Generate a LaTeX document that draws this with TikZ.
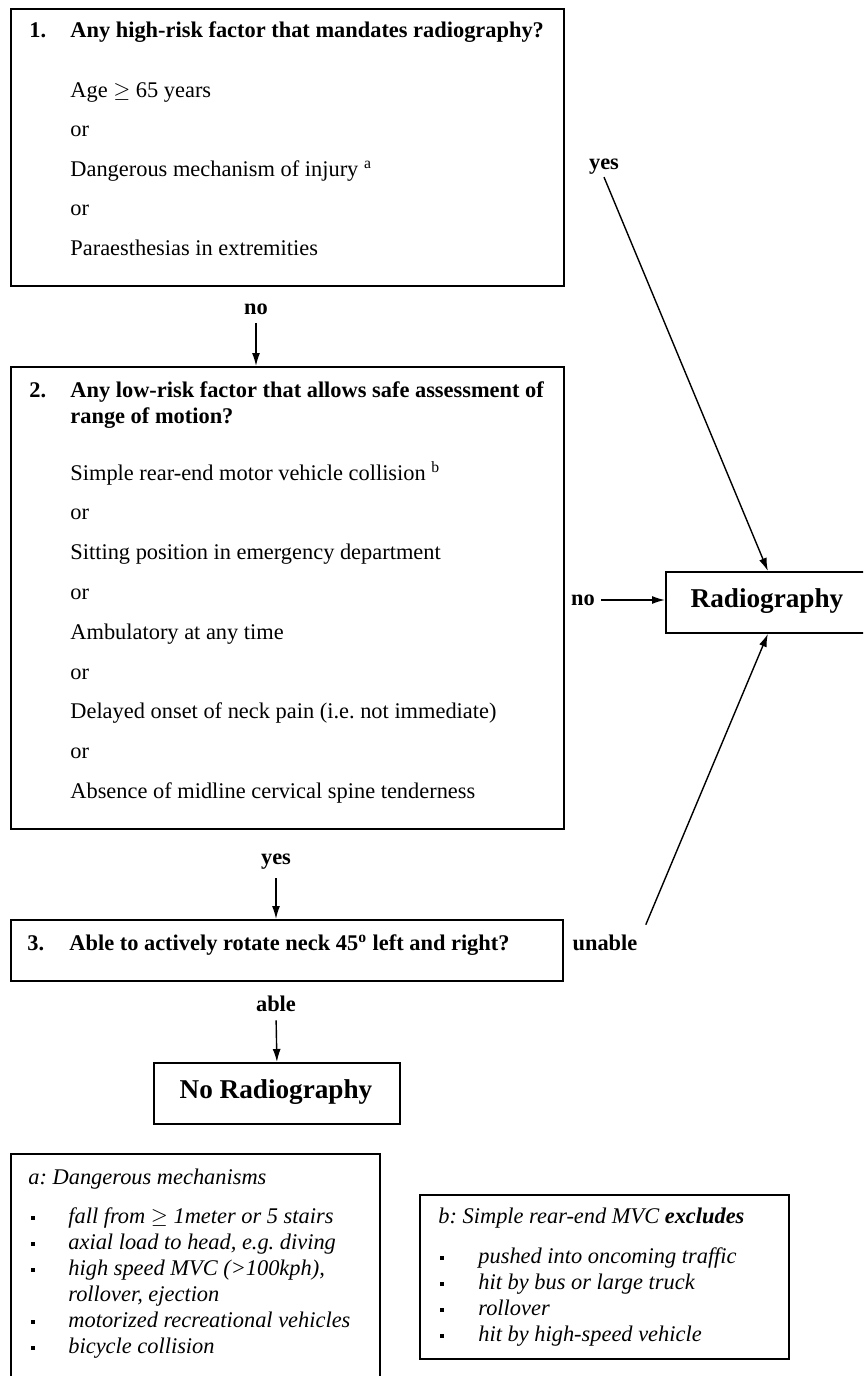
\documentclass[tikz,border=0pt]{standalone}
\usepackage{fontspec}
\setmainfont{Liberation Serif}
\usetikzlibrary{arrows.meta}
\newcommand\bodysize{\fontsize{11.2pt}{13.4pt}\selectfont}
\newcommand\bigsize{\fontsize{13.6pt}{16pt}\selectfont}
\frenchspacing

\begin{document}
\begin{tikzpicture}[x=.5pt,y=-.5pt,
  box/.style={draw,line width=.9pt,inner sep=0,anchor=north west},
  txt/.style={anchor=base west,inner sep=0,font=\bodysize},
  head/.style={anchor=base west,inner sep=0,font=\bodysize\bfseries},
  lbl/.style={inner sep=1pt,font=\bodysize\bfseries},
  note/.style={anchor=base west,inner sep=0,font=\bodysize\itshape},
  sq/.style={fill,inner sep=0,minimum size=2.4pt},
  arr/.style={line width=.7pt,-{Latex[length=6.5pt,width=4pt]}}]
\useasboundingbox(0,0)rectangle(863,1376);
\clip(0,0)rectangle(863,1376);
\fill[white](0,0)rectangle(863,1376);
% boxes
\node[box,minimum width=276.5pt,minimum height=138.5pt](high)at(10,8){};
\node[box,minimum width=276.5pt,minimum height=231pt](low)at(10,366){};
\node[box,minimum width=276pt,minimum height=30.5pt](rotate)at(10,919){};
\node[box,minimum width=102pt,minimum height=30.5pt](radio)at(665,571){};
\node[font=\bigsize\bfseries,inner sep=0](radioT)at(767,601.5){Radiography};
\node[box,minimum width=123pt,minimum height=30.5pt](noradio)at(153,1062){};
\node[font=\bigsize\bfseries,inner sep=0](noradioT)at(276,1092.5){No Radiography};
\node[box,minimum width=184.5pt,minimum height=120pt](footA)at(10,1153){};
\node[box,minimum width=184.5pt,minimum height=82pt](footB)at(419,1194){};
% question 1
\node[head](q1num)at(29,38){1.};
\node[head](q1)at(70,38){Any high-risk factor that mandates radiography?};
\foreach\t[count=\i from 0]in{Age $\geq$ 65 years,or,Dangerous mechanism of injury \textsuperscript{a},or,Paraesthesias in extremities}{\node[txt](high\i)at(70,97+39.5*\i){\t};}
% question 2
\node[head](q2num)at(29,397){2.};
\node[head](q2a)at(70,397){Any low-risk factor that allows safe assessment of};
\node[head](q2b)at(70,423){range of motion?};
\foreach\t[count=\i from 0]in{Simple rear-end motor vehicle collision \textsuperscript{b},or,Sitting position in emergency department,or,Ambulatory at any time,or,Delayed onset of neck pain (i.e. not immediate),or,Absence of midline cervical spine tenderness}{\node[txt](low\i)at(70,480+39.8*\i){\t};}
% question 3
\node[head](q3num)at(27,950){3.};
\node[head](q3)at(69,950){Able to actively rotate neck 45\textsuperscript{o} left and right?};
% labels and arrows
\node[lbl](noA)at(256,309){no};
\node[lbl](yesA)at(604,167){yes};
\node[lbl](noB)at(583,600){no};
\node[lbl](yesB)at(276,862){yes};
\node[lbl](unable)at(605,943){unable};
\node[lbl](able)at(276,1004){able};
\draw[arr,shorten <=3pt](noA.south)--(noA.south|-low.north);
\draw[arr](yesA.south)--(radio.north);
\draw[arr,shorten <=2pt](noB.east)--(noB.east-|radio.west);
\draw[arr,shorten <=3pt](yesB.south)--(yesB.south|-rotate.north);
\draw[arr]([xshift=3pt,yshift=4pt]unable.north east)--(radio.south);
\draw[arr,shorten <=3pt](able.south)--(noradio.north);
% footnote a
\node[note](aT)at(28,1184){a: Dangerous mechanisms};
\foreach\t/\y[count=\i]in{{fall from $\geq$ 1meter or 5 stairs}/1223,{axial load to head, e.g. diving}/1249,{high speed MVC (>100kph),}/1275,{motorized recreational vehicles}/1327,{bicycle collision}/1353}{\node[sq](aB\i)at(33,\y-5){};\node[note](aL\i)at(68,\y){\t};}
\node[note](aL3b)at(68,1301){rollover, ejection};
% footnote b
\node[note](bT)at(438,1223){b: Simple rear-end MVC \textbf{excludes}};
\foreach\t/\y[count=\i]in{{pushed into oncoming traffic}/1263,{hit by bus or large truck}/1289,{rollover}/1315,{hit by high-speed vehicle}/1341}{\node[sq](bB\i)at(442,\y-5){};\node[note](bL\i)at(478,\y){\t};}
\end{tikzpicture}
\end{document}
